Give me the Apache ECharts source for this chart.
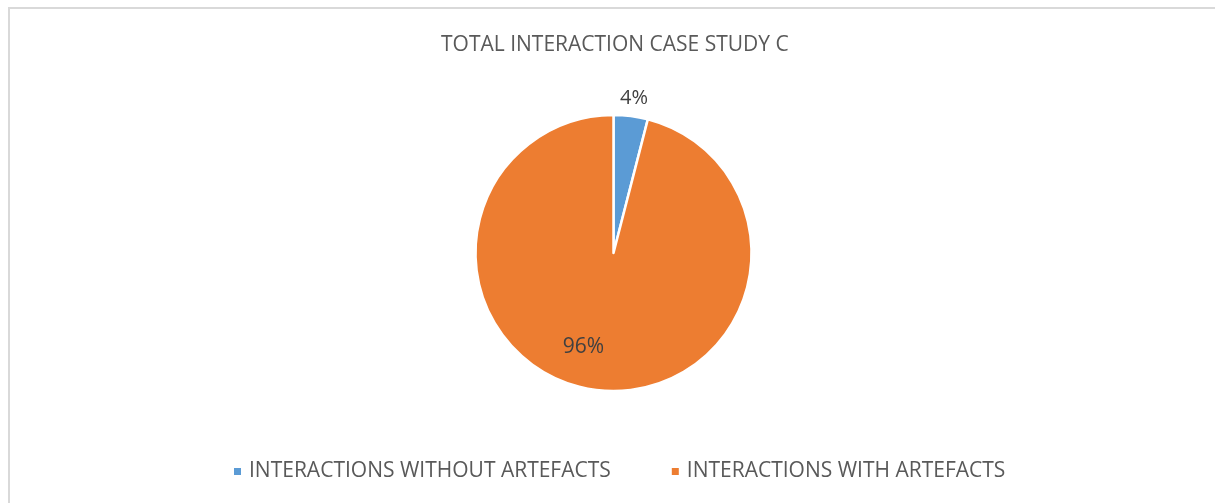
<!DOCTYPE html>
<html>
<head>
<meta charset="utf-8">
<script src="https://cdn.jsdelivr.net/npm/echarts@6/dist/echarts.min.js"></script>
<style>
html,body{margin:0;padding:0;background:#fff;overflow:hidden;}
#chart{position:absolute;left:0;top:0;width:1215px;height:503px;}
</style>
</head>
<body>
<div id="chart"></div>
<script>
const chartTitle = 'TOTAL INTERACTION CASE STUDY C';
const categories = ['INTERACTIONS WITHOUT ARTEFACTS', 'INTERACTIONS WITH ARTEFACTS'];
const values = [4, 96];
const colors = ['#5B9BD5', '#ED7D31'];

const FONT = '"Open Sans", Calibri, sans-serif';
const chart = echarts.init(document.getElementById('chart'), null, {renderer: 'canvas'});
const labelCfg = [
  {position: 'inside', offset: [11.5, -83], fontSize: 20},
  {position: 'inside', offset: [-21, 23]}
];
chart.setOption({
  backgroundColor: '#fff',
  animation: false,
  graphic: [{
    type: 'polyline',
    silent: true,
    shape: {points: [[9, 503], [9, 8], [1215, 8]]},
    style: {stroke: '#d9d9d9', lineWidth: 2, fill: null}
  }],
  title: {
    text: chartTitle,
    left: 436,
    top: 30,
    textStyle: {fontFamily: FONT, fontSize: 21, fontWeight: 'normal', color: '#595959'}
  },
  legend: {
    top: 456,
    left: 227,
    icon: 'rect',
    itemWidth: 9,
    itemHeight: 9,
    itemGap: 59,
    textStyle: {fontFamily: FONT, fontSize: 21, color: '#595959', padding: [0, 0, 0, 2]},
    data: categories
  },
  series: [{
    type: 'pie',
    center: [613.5, 253],
    radius: 138,
    startAngle: 90,
    clockwise: true,
    itemStyle: {borderColor: '#fff', borderWidth: 2.5},
    labelLine: {show: false},
    label: {
      formatter: '{d}%',
      fontFamily: FONT,
      fontSize: 21,
      color: '#404040'
    },
    data: categories.map((c, i) => ({
      name: c,
      value: values[i],
      itemStyle: {color: colors[i]},
      label: labelCfg[i]
    }))
  }]
});
</script>
</body>
</html>
